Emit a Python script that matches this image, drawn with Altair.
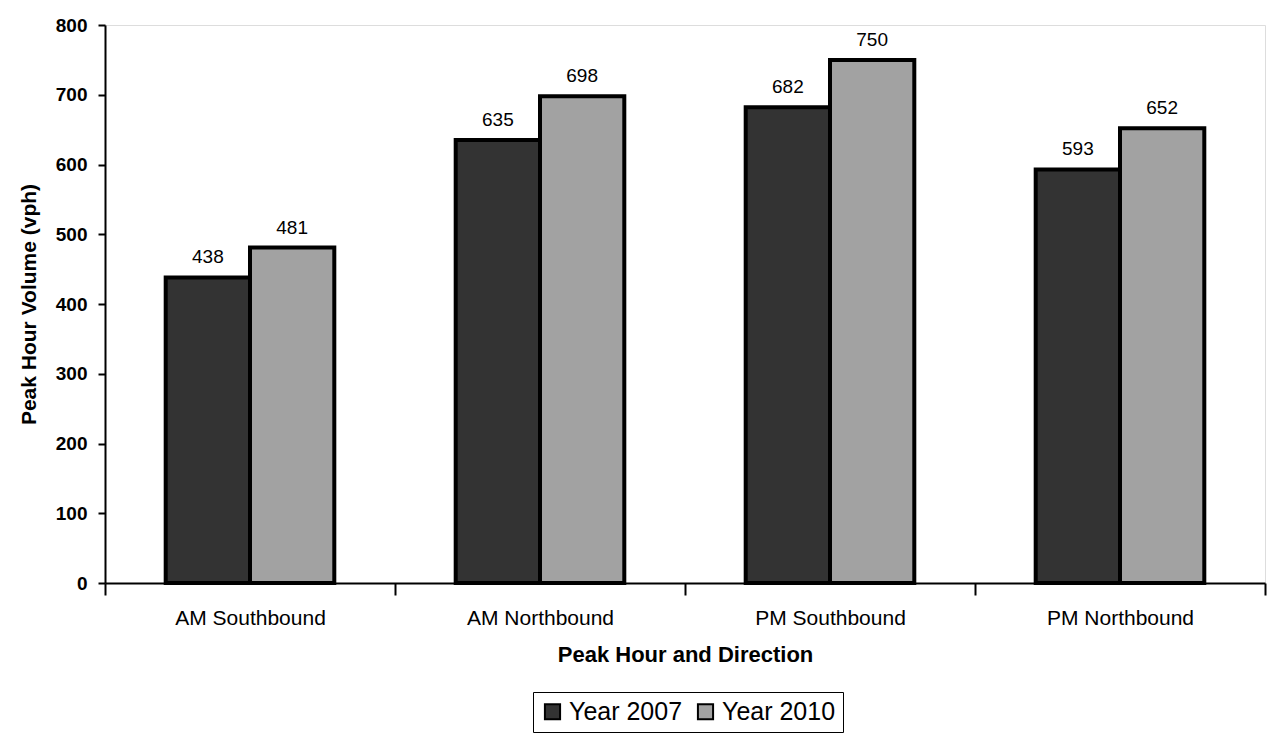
import altair as alt
import pandas as pd

categories = ["AM Southbound", "AM Northbound", "PM Southbound", "PM Northbound"]
years = ["Year 2007", "Year 2010"]
vol_2007 = [438, 635, 682, 593]
vol_2010 = [481, 698, 750, 652]
y_ticks = [0, 100, 200, 300, 400, 500, 600, 700, 800]

rows = []
for c, a, b in zip(categories, vol_2007, vol_2010):
    rows.append({"cat": c, "year": years[0], "vol": a})
    rows.append({"cat": c, "year": years[1], "vol": b})
df = pd.DataFrame(rows)

FONT = "Liberation Sans"

base = alt.Chart(df).encode(
    x=alt.X(
        "cat:N",
        sort=categories,
        scale=alt.Scale(paddingInner=0, paddingOuter=0),
        axis=alt.Axis(
            title="Peak Hour and Direction",
            labelAngle=0,
            tickBand="extent",
            labelFont=FONT,
            labelFontSize=21,
            labelColor="black",
            labelPadding=12,
            titleFont=FONT,
            titleFontSize=22,
            titleFontWeight="bold",
            titleColor="black",
            titlePadding=16,
            domainColor="black",
            domainWidth=2,
            tickColor="black",
            tickWidth=2,
            tickSize=12,
        ),
    ),
    xOffset=alt.XOffset(
        "year:N", sort=years, scale=alt.Scale(paddingInner=0, paddingOuter=0.72)
    ),
    y=alt.Y(
        "vol:Q",
        scale=alt.Scale(domain=[0, 800]),
        axis=alt.Axis(
            title="Peak Hour Volume (vph)",
            values=y_ticks,
            grid=False,
            labelFont=FONT,
            labelFontSize=19,
            labelFontWeight="bold",
            labelColor="black",
            labelPadding=11,
            titleFont=FONT,
            titleFontSize=21,
            titleFontWeight="bold",
            titleColor="black",
            titlePadding=16,
            domainColor="black",
            domainWidth=2,
            tickColor="black",
            tickWidth=2,
            tickSize=7,
        ),
    ),
)

bars = base.mark_bar(stroke="black", strokeWidth=4).encode(
    color=alt.Color(
        "year:N",
        sort=years,
        scale=alt.Scale(domain=years, range=["#333333", "#a2a2a2"]),
        legend=alt.Legend(
            title=None,
            orient="none",
            legendX=428,
            legendY=667,
            direction="horizontal",
            strokeColor="black",
            padding=7,
            symbolType="square",
            symbolSize=230,
            symbolStrokeColor="black",
            symbolStrokeWidth=2,
            labelFont=FONT,
            labelFontSize=25,
            labelColor="black",
            columnPadding=10,
            labelLimit=300,
        ),
    )
)

labels = base.mark_text(
    baseline="bottom", dy=-10, fontSize=19, font=FONT, color="black"
).encode(text="vol:Q")

chart = (
    (bars + labels)
    .properties(
        width=1160,
        height=558,
        autosize=alt.AutoSizeParams(type="none"),
        padding={"left": 97, "top": 17, "right": 2, "bottom": 150},
    )
    .configure_view(stroke=None)
    .configure(background="white")
)

chart.save("out.html", embed_options={"renderer": "svg", "actions": False})
